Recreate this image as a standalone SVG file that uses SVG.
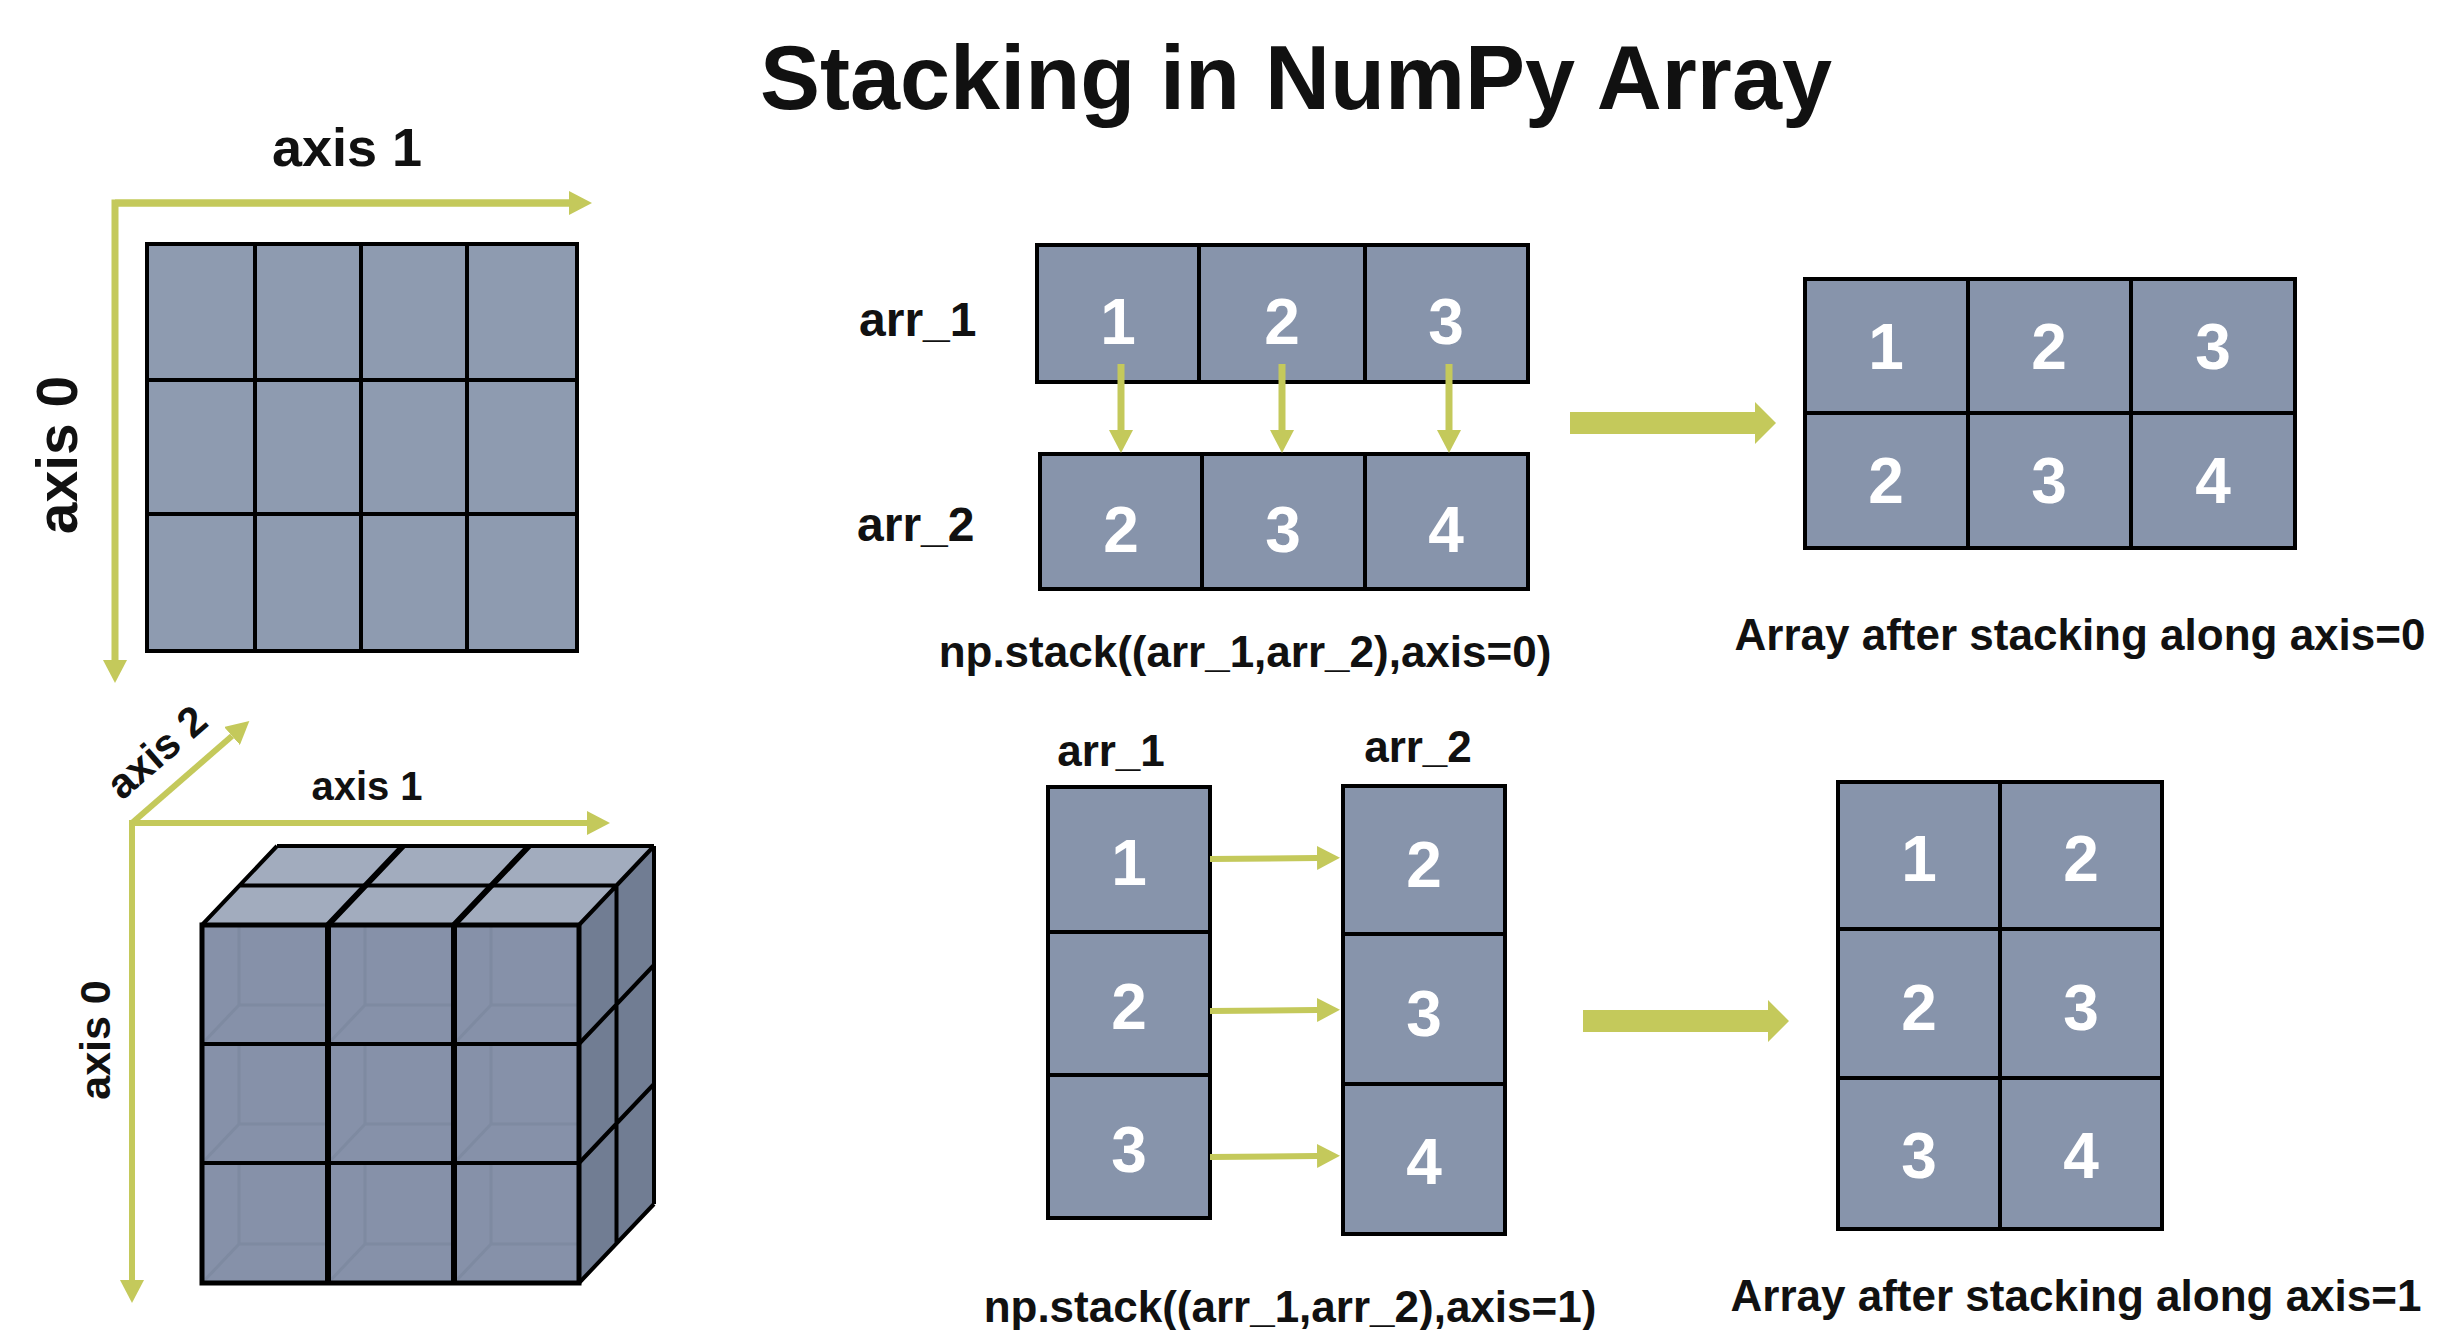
<svg xmlns="http://www.w3.org/2000/svg" width="2448" height="1330" viewBox="0 0 2448 1330">
<style>
text{font-family:"Liberation Sans",Arial,sans-serif;font-weight:bold;fill:#111}
.num{fill:#fff;font-size:64px;text-anchor:middle}
.lbl{font-size:48px}
.cap{font-size:44px;text-anchor:middle}
.cell{fill:#8794AB;stroke:#000;stroke-width:4}
.g2{fill:#8E9BB0;stroke:#000;stroke-width:4}
.ln{stroke:#000;stroke-width:4;fill:none}
.thk{stroke:#000;stroke-width:6;fill:none}
.faint{stroke:#6E7A90;stroke-opacity:0.3;stroke-width:3;fill:none}
.lime{stroke:#C4C95B;fill:none}
.big{fill:#C4C95B}
</style>
<defs>
<marker id="ah" markerUnits="userSpaceOnUse" markerWidth="24" markerHeight="24" refX="0" refY="12" orient="auto">
<path d="M0,0 L23,12 L0,24 z" fill="#C4C95B"/>
</marker>
</defs>
<rect width="2448" height="1330" fill="#fff"/>

<g id="title"><text x="1296" y="109" font-size="90" text-anchor="middle">Stacking in NumPy Array</text></g>

<g id="grid2d">
<rect class="g2" x="147" y="244" width="108" height="136"/><rect class="g2" x="255" y="244" width="106" height="136"/><rect class="g2" x="361" y="244" width="106" height="136"/><rect class="g2" x="467" y="244" width="110" height="136"/>
<rect class="g2" x="147" y="380" width="108" height="134"/><rect class="g2" x="255" y="380" width="106" height="134"/><rect class="g2" x="361" y="380" width="106" height="134"/><rect class="g2" x="467" y="380" width="110" height="134"/>
<rect class="g2" x="147" y="514" width="108" height="137"/><rect class="g2" x="255" y="514" width="106" height="137"/><rect class="g2" x="361" y="514" width="106" height="137"/><rect class="g2" x="467" y="514" width="110" height="137"/>
<text x="347" y="166" font-size="54" text-anchor="middle">axis 1</text>
<text transform="translate(77,455) rotate(-90)" font-size="57" text-anchor="middle">axis 0</text>
</g>

<g id="cube3d">
<polygon points="202,925 579,925 654,846 277,846" fill="#A2ACBE"/>
<polygon points="579,925 654,846 654,1204 579,1283" fill="#717D93"/>
<rect x="202" y="925" width="377" height="358" fill="#8691A9"/>
<path class="faint" d="M239,925V1005H328M202,1044L239,1005 M365,925V1005H454M328,1044L365,1005 M491,925V1005H579M454,1044L491,1005 M239,1044V1124H328M202,1163L239,1124 M365,1044V1124H454M328,1163L365,1124 M491,1044V1124H579M454,1163L491,1124 M239,1163V1244H328M202,1283L239,1244 M365,1163V1244H454M328,1283L365,1244 M491,1163V1244H579M454,1283L491,1244"/>
<path class="ln" d="M277,846H654 M239.5,885.5H616.5 M202,925L277,846 M579,925L654,846 M654,846V1204 M616.5,885.5V1243.5 M579,1044L654,965 M579,1163L654,1084 M579,1283L654,1204"/>
<path class="thk" d="M328,925L403,846 M454,925L529,846"/>
<rect x="202" y="925" width="377" height="358" fill="none" stroke="#000" stroke-width="5"/>
<path class="ln" d="M202,1044H579 M202,1163H579"/>
<path class="thk" d="M328,925V1283 M454,925V1283"/>
<text x="367" y="800" font-size="40" text-anchor="middle">axis 1</text>
<text transform="translate(110,1040) rotate(-90)" font-size="43" text-anchor="middle">axis 0</text>
<text transform="translate(166,763) rotate(-41)" font-size="42" text-anchor="middle">axis 2</text>
</g>

<g id="arr1_row">
<rect class="cell" x="1037" y="245" width="162" height="137"/><rect class="cell" x="1199" y="245" width="166" height="137"/><rect class="cell" x="1365" y="245" width="163" height="137"/>
<text class="num" x="1118" y="344">1</text><text class="num" x="1282" y="344">2</text><text class="num" x="1446" y="344">3</text>
<text class="lbl" x="859" y="336">arr_1</text>
</g>
<g id="arr2_row">
<rect class="cell" x="1040" y="454" width="162" height="135"/><rect class="cell" x="1202" y="454" width="163" height="135"/><rect class="cell" x="1365" y="454" width="163" height="135"/>
<text class="num" x="1121" y="552">2</text><text class="num" x="1283" y="552">3</text><text class="num" x="1446" y="552">4</text>
<text class="lbl" x="857" y="541">arr_2</text>
<text class="cap" x="1245" y="667" font-size="43">np.stack((arr_1,arr_2),axis=0)</text>
</g>
<g id="result0">
<rect class="cell" x="1805" y="279" width="163" height="134"/><rect class="cell" x="1968" y="279" width="163" height="134"/><rect class="cell" x="2131" y="279" width="164" height="134"/>
<rect class="cell" x="1805" y="413" width="163" height="135"/><rect class="cell" x="1968" y="413" width="163" height="135"/><rect class="cell" x="2131" y="413" width="164" height="135"/>
<text class="num" x="1886" y="369">1</text><text class="num" x="2049" y="369">2</text><text class="num" x="2213" y="369">3</text>
<text class="num" x="1886" y="503">2</text><text class="num" x="2049" y="503">3</text><text class="num" x="2213" y="503">4</text>
<text class="cap" x="2080" y="650" font-size="45">Array after stacking along axis=0</text>
</g>

<g id="arr1_col">
<text class="cap" x="1111" y="766" font-size="42">arr_1</text>
<rect class="cell" x="1048" y="787" width="162" height="145"/><rect class="cell" x="1048" y="932" width="162" height="143"/><rect class="cell" x="1048" y="1075" width="162" height="143"/>
<text class="num" x="1129" y="885">1</text><text class="num" x="1129" y="1029">2</text><text class="num" x="1129" y="1172">3</text>
</g>
<g id="arr2_col">
<text class="cap" x="1418" y="762" font-size="42">arr_2</text>
<rect class="cell" x="1343" y="786" width="162" height="148"/><rect class="cell" x="1343" y="934" width="162" height="150"/><rect class="cell" x="1343" y="1084" width="162" height="150"/>
<text class="num" x="1424" y="887">2</text><text class="num" x="1424" y="1036">3</text><text class="num" x="1424" y="1184">4</text>
<text class="cap" x="1290" y="1322" font-size="43">np.stack((arr_1,arr_2),axis=1)</text>
</g>
<g id="result1">
<rect class="cell" x="1838" y="782" width="162" height="147"/><rect class="cell" x="2000" y="782" width="162" height="147"/>
<rect class="cell" x="1838" y="929" width="162" height="149"/><rect class="cell" x="2000" y="929" width="162" height="149"/>
<rect class="cell" x="1838" y="1078" width="162" height="151"/><rect class="cell" x="2000" y="1078" width="162" height="151"/>
<text class="num" x="1919" y="881">1</text><text class="num" x="2081" y="881">2</text>
<text class="num" x="1919" y="1030">2</text><text class="num" x="2081" y="1030">3</text>
<text class="num" x="1919" y="1178">3</text><text class="num" x="2081" y="1178">4</text>
<text class="cap" x="2076" y="1311" font-size="44">Array after stacking along axis=1</text>
</g>

<g id="connectors">
<polyline class="lime" stroke-width="7" points="569,203 115,203 115,660" marker-end="url(#ah)"/>
<line class="lime" stroke-width="7" x1="115" y1="203" x2="569" y2="203" marker-end="url(#ah)"/>
<polyline class="lime" stroke-width="6" points="587,823 132,823 132,1280" marker-end="url(#ah)"/>
<line class="lime" stroke-width="6" x1="132" y1="823" x2="587" y2="823" marker-end="url(#ah)"/>
<line class="lime" stroke-width="6" x1="132" y1="823" x2="232" y2="736" marker-end="url(#ah)"/>
<line class="lime" stroke-width="7" x1="1121" y1="364" x2="1121" y2="430" marker-end="url(#ah)"/>
<line class="lime" stroke-width="7" x1="1282" y1="364" x2="1282" y2="430" marker-end="url(#ah)"/>
<line class="lime" stroke-width="7" x1="1449" y1="364" x2="1449" y2="430" marker-end="url(#ah)"/>
<line class="lime" stroke-width="6" x1="1210" y1="859" x2="1317" y2="858" marker-end="url(#ah)"/>
<line class="lime" stroke-width="6" x1="1210" y1="1011" x2="1317" y2="1010" marker-end="url(#ah)"/>
<line class="lime" stroke-width="6" x1="1210" y1="1157" x2="1317" y2="1156" marker-end="url(#ah)"/>
<polygon class="big" points="1570,412 1755,412 1755,402 1776,423 1755,444 1755,434 1570,434"/>
<polygon class="big" points="1583,1010 1768,1010 1768,1000 1789,1021 1768,1042 1768,1032 1583,1032"/>
</g>
</svg>
